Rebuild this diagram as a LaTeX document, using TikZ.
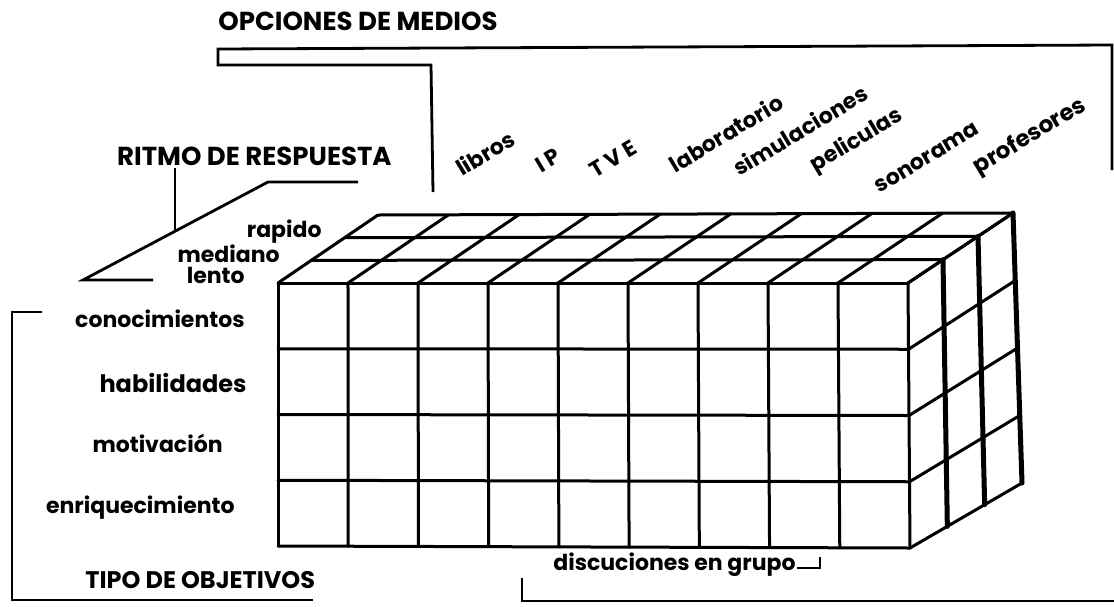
\documentclass[tikz,border=0pt]{standalone}
\usepackage{fontspec}
\setmainfont{Poppins}
\usetikzlibrary{calc}
\begin{document}
\begin{tikzpicture}[x=0.5pt,y=-0.5pt,
  grid/.style={line width=1.5pt, line cap=round, line join=round},
  heavy/.style={line width=2.5pt, line cap=round},
  brk/.style={line width=1.4pt},
  lbl/.style={font=\bfseries\fontsize{11}{13}\selectfont, inner sep=0pt},
  ttl/.style={font=\bfseries\fontsize{13}{15}\selectfont, inner sep=0pt},
  media/.style={lbl, rotate=31}]
\useasboundingbox (0,0) rectangle (1114,606);
% cube corners
\coordinate (F0) at (278,283);
\coordinate (F1) at (908,283);
\coordinate (B0) at (378,215);
\coordinate (B1) at (1013,213);
\coordinate (FB0) at (278,546);
\coordinate (FB1) at (910,548);
\coordinate (RB) at (1022,483);
% front face
\foreach \i in {0,...,9} { \draw[grid] ($(F0)!\i/9!(F1)$) -- ($(FB0)!\i/9!(FB1)$); }
\foreach \j in {0,...,4} { \draw[grid] ($(F0)!\j/4!(FB0)$) -- ($(F1)!\j/4!(FB1)$); }
% top face
\foreach \k in {1,2,3} { \draw[grid] ($(F0)!\k/3!(B0)$) -- ($(F1)!\k/3!(B1)$); }
\foreach \i in {0,...,9} { \draw[grid] ($(F0)!\i/9!(F1)$) -- ($(B0)!\i/9!(B1)$); }
% right face
\foreach \j in {0,...,4} { \draw[grid] ($(F1)!\j/4!(FB1)$) -- ($(B1)!\j/4!(RB)$); }
\foreach \k in {1,2,3} { \draw[heavy] ($(F1)!\k/3!(B1)$) -- ($(FB1)!\k/3!(RB)$); }
% brackets
\coordinate (omEnd) at (1112,170);
\draw[brk] (omEnd) -- (1112,45) -- (218,49) -- (218,65) -- (431,65) -- (433,192);
\draw[brk] (358,182) -- (268,182) -- (83,280) -- (153,280);
\draw[brk] (175,168) -- (175,230);
\draw[brk] (42,312) -- (12,312) -- (12,600) -- (313,600);
\draw[brk] (522,578) -- (522,601) -- (1114,601);
\draw[brk] (797,568) -- (820,568) -- (820,557);
% titles
\node[ttl, anchor=base west] (om) at (218,30) {OPCIONES DE MEDIOS};
\node[ttl, anchor=base east] (rr) at (392,165) {RITMO DE RESPUESTA};
\node[ttl, anchor=base west, font=\bfseries\fontsize{12}{14}\selectfont] (to) at (85,588) {TIPO DE OBJETIVOS};
% depth labels
\node[lbl, anchor=base east] (r1) at (322,237) {rapido};
\node[lbl, anchor=base east] (r2) at (280,262) {mediano};
\node[lbl, anchor=base east] (r3) at (245,283) {lento};
% row labels
\node[lbl, anchor=base east] (o1) at (245,327) {conocimientos};
\node[lbl, anchor=base east, font=\bfseries\fontsize{12}{14}\selectfont] (o2) at (247,392) {habilidades};
\node[lbl, anchor=base east] (o3) at (223,452) {motivación};
\node[lbl, anchor=base east] (o4) at (235,513) {enriquecimiento};
% media labels
\node[media] (m1) at (485,153) {libros};
\node[media] (m2) at (548,160) {I P};
\node[media] (m3) at (613,159) {T V E};
\node[media] (m4) at (726,133) {laboratorio};
\node[media] (m5) at (800,130) {simulaciones};
\node[media] (m6) at (857,141) {peliculas};
\node[media] (m7) at (927,158) {sonorama};
\node[media, font=\bfseries\fontsize{11.5}{13}\selectfont] (m8) at (1030,137) {profesores};
\node[lbl, anchor=base west] (m9) at (553,570) {discuciones en grupo};
\end{tikzpicture}
\end{document}
